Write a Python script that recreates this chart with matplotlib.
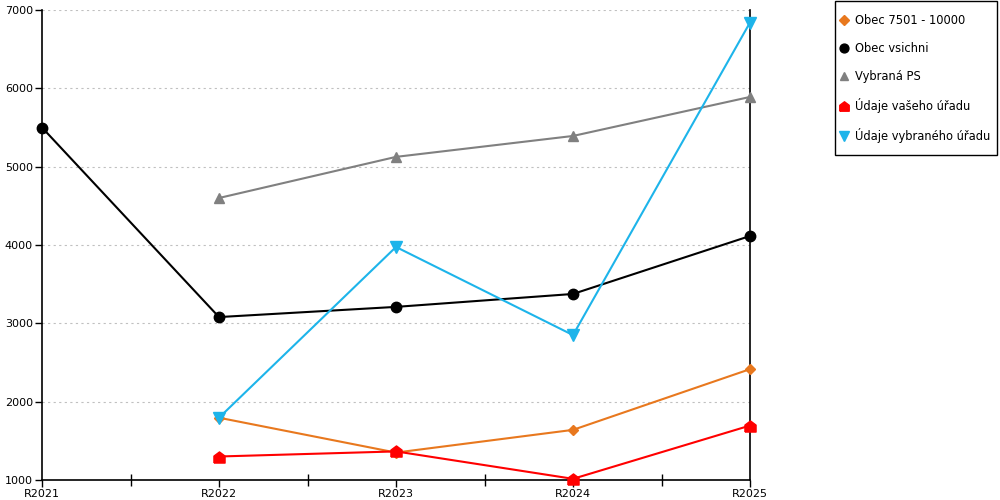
import matplotlib
matplotlib.use('Agg')
import matplotlib.pyplot as plt
from matplotlib.lines import Line2D
from matplotlib.patches import Rectangle
from matplotlib.ticker import MultipleLocator

# data
roky = ['R2021', 'R2022', 'R2023', 'R2024', 'R2025']
obec_7501 = [None, 1795, 1350, 1640, 2415]
obec_vsichni = [5500, 3080, 3210, 3375, 4115]
vybrana_ps = [None, 4600, 5125, 5392, 5890]
vas_urad = [None, 1300, 1365, 1015, 1695]
vybrany_urad = [None, 1795, 3975, 2850, 6840]
y_ticks = [1000, 2000, 3000, 4000, 5000, 6000, 7000]

nazvy = ['Obec 7501 - 10000', 'Obec vsichni', 'Vybraná PS',
         'Údaje vašeho úřadu', 'Údaje vybraného úřadu']
barvy = ['#e8781e', '#000000', '#808080', '#ff0000', '#1db4ea']
dum = [(-1, -1), (1, -1), (1, 0.25), (0, 1), (-1, 0.25), (-1, -1)]  # domecek
znacky = ['D', 'o', '^', dum, 'v']
velikosti = [5.5, 7.5, 7.5, 8, 8.5]
serie = [obec_7501, obec_vsichni, vybrana_ps, vas_urad, vybrany_urad]

plt.rcParams['font.family'] = ['DejaVu Sans']
plt.rcParams['font.size'] = 8

fig = plt.figure(figsize=(10, 5), dpi=100)
ax = fig.add_axes([0.042, 0.04, 0.708, 0.94])

x = list(range(len(roky)))
for s, c, m, ms in zip(serie, barvy, znacky, velikosti):
    xs = [i for i, v in zip(x, s) if v is not None]
    ys = [v for v in s if v is not None]
    ax.plot(xs, ys, color=c, marker=m, markersize=ms, linewidth=1.5,
            clip_on=False, zorder=3)

ax.set_xlim(0, 4)
ax.set_ylim(1000, 7000)
ax.set_xticks(x)
ax.set_xticklabels(roky)
ax.xaxis.set_minor_locator(MultipleLocator(0.5))
ax.set_yticks(y_ticks)
ax.tick_params(axis='both', which='major', length=5, width=1, color='black', pad=1.5)
ax.tick_params(axis='x', which='minor', length=8, width=1, direction='inout')
ax.yaxis.grid(True, linestyle=(0, (2, 3)), color='#c0c0c0', linewidth=0.8)
ax.spines['top'].set_visible(False)
for sp in ['left', 'right', 'bottom']:
    ax.spines[sp].set_linewidth(1.2)
    ax.spines[sp].set_color('black')

# ramecek legendy zvlast, aby sedel na referenci
fig.patches.append(Rectangle((0.835, 0.69), 0.162, 0.308, transform=fig.transFigure,
                             fill=False, edgecolor='black', linewidth=1.0))
handles = [Line2D([], [], color=c, marker=m, linestyle='none', markersize=ms * 0.85)
           for c, m, ms in zip(barvy, znacky, velikosti)]
leg = fig.legend(handles, nazvy, loc='upper left', bbox_to_anchor=(0.840, 0.972),
                 frameon=False, labelspacing=1.3, handlelength=0.7,
                 handletextpad=0.6, borderpad=0, borderaxespad=0, fontsize=8.3)

plt.savefig('out.png')
